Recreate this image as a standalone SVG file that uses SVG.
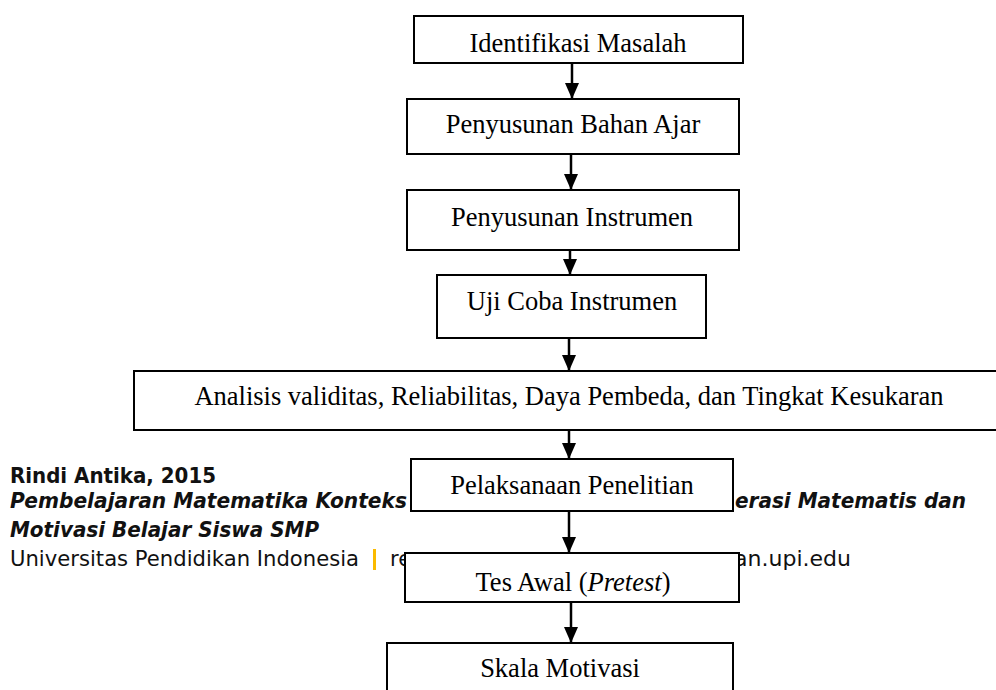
<svg xmlns="http://www.w3.org/2000/svg" width="996" height="690" viewBox="0 0 996 690">
<style>
.box{fill:#fff;stroke:#000;stroke-width:2}
.lbl{font-family:"Liberation Serif","Times New Roman",serif;font-size:26.5px;fill:#000;text-anchor:middle}
.ft{font-family:"DejaVu Sans",Tahoma,Verdana,sans-serif;font-size:21px;fill:#111}
.conn{stroke:#000;stroke-width:2.5;fill:none;marker-end:url(#ah)}
</style>
<defs>
<marker id="ah" markerUnits="userSpaceOnUse" viewBox="0 0 16 14" refX="16" refY="7" markerWidth="16" markerHeight="14" orient="auto">
<path d="M0,0 L16,7 L0,14 z" fill="#000"/>
</marker>
</defs>
<rect width="996" height="690" fill="#fff"/>
<g id="footer">
<text class="ft" x="10" y="483" font-weight="bold" textLength="206" lengthAdjust="spacingAndGlyphs">Rindi Antika, 2015</text>
<text class="ft" x="10" y="508" font-weight="bold" font-style="italic" textLength="397" lengthAdjust="spacingAndGlyphs">Pembelajaran Matematika Konteks</text>
<text class="ft" x="735" y="508" font-weight="bold" font-style="italic" textLength="231" lengthAdjust="spacingAndGlyphs">erasi Matematis dan</text>
<text class="ft" x="10" y="537" font-weight="bold" font-style="italic" textLength="309" lengthAdjust="spacingAndGlyphs">Motivasi Belajar Siswa SMP</text>
<text class="ft" x="10" y="566" textLength="349" lengthAdjust="spacingAndGlyphs">Universitas Pendidikan Indonesia</text>
<rect x="373" y="549" width="3" height="21" fill="#FBBA00"/>
<text class="ft" x="390" y="566">re</text>
<text class="ft" x="734" y="566" textLength="117" lengthAdjust="spacingAndGlyphs">an.upi.edu</text>
</g>
<g id="connectors">
<path class="conn" d="M572,63 V99"/>
<path class="conn" d="M571,154 V190"/>
<path class="conn" d="M570,250 V275"/>
<path class="conn" d="M569,338 V371"/>
<path class="conn" d="M569,430 V459"/>
<path class="conn" d="M569,511 V553"/>
<path class="conn" d="M571,602 V643"/>
</g>
<g id="n1"><rect class="box" x="414" y="16" width="329" height="47"/><text class="lbl" x="578" y="52">Identifikasi Masalah</text></g>
<g id="n2"><rect class="box" x="407" y="99" width="332" height="55"/><text class="lbl" x="573" y="133">Penyusunan Bahan Ajar</text></g>
<g id="n3"><rect class="box" x="407" y="190" width="332" height="60"/><text class="lbl" x="572" y="226">Penyusunan Instrumen</text></g>
<g id="n4"><rect class="box" x="437" y="275" width="269" height="63"/><text class="lbl" x="572" y="310">Uji Coba Instrumen</text></g>
<g id="n5"><rect class="box" x="134" y="371" width="870" height="59"/><text class="lbl" x="569" y="405">Analisis validitas, Reliabilitas, Daya Pembeda, dan Tingkat Kesukaran</text></g>
<g id="n6"><rect class="box" x="411" y="459" width="322" height="52"/><text class="lbl" x="572" y="494">Pelaksanaan Penelitian</text></g>
<g id="n7"><rect class="box" x="405" y="553" width="334" height="49"/><text class="lbl" x="573" y="591">Tes Awal (<tspan font-style="italic">Pretest</tspan>)</text></g>
<g id="n8"><rect class="box" x="387" y="643" width="346" height="60"/><text class="lbl" x="560" y="677">Skala Motivasi</text></g>
</svg>
